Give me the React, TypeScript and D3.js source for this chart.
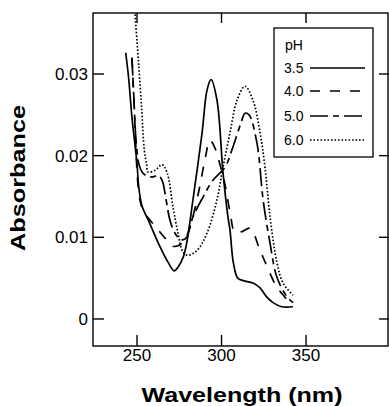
import React from "react";
import * as d3 from "d3";

// Absorption spectra (wavelength in nm, absorbance) at four pH values
const wl35 = [243.3, 245, 247, 250, 251, 253, 256.7, 262.6, 268.5, 272, 274.4, 277.4, 279.4, 283.1, 288.5, 291.4, 293.8, 297.3, 300.9, 303.8, 305, 307, 309.6, 312.9, 318.6, 322.8, 326.7, 330.5, 335.6, 342.3];
const ab35 = [0.0326, 0.0296, 0.0247, 0.019, 0.0162, 0.0138, 0.0121, 0.0093, 0.0069, 0.0059, 0.0064, 0.0076, 0.0093, 0.0146, 0.0228, 0.028, 0.0293, 0.0268, 0.0179, 0.0125, 0.0109, 0.0069, 0.005, 0.0047, 0.0044, 0.0038, 0.0027, 0.002, 0.0015, 0.0015];

const wl40 = [247, 248.2, 249.4, 250.6, 252.4, 254.7, 257.7, 261.8, 266.6, 271.3, 275.4, 279, 282.5, 286.7, 290.2, 293.2, 296.2, 299.1, 302.1, 305.1, 308, 312, 316.9, 322.8, 327, 332.8, 340.5, 342.3];
const ab40 = [0.032, 0.0268, 0.0207, 0.0164, 0.014, 0.0129, 0.0121, 0.0111, 0.0099, 0.0089, 0.0091, 0.01, 0.0121, 0.0158, 0.0195, 0.0219, 0.0209, 0.0189, 0.0164, 0.013, 0.0106, 0.0107, 0.0111, 0.0084, 0.0064, 0.0039, 0.0021, 0.002];

const wl50 = [247, 248.2, 249.4, 251.2, 253, 255.9, 259.5, 262.4, 264.8, 267.2, 269.5, 272.5, 276, 279, 283.1, 289, 294.9, 302.1, 306.8, 311.5, 313.9, 316.3, 321, 324.6, 328.7, 332.8, 338.8, 342.3];
const ab50 = [0.032, 0.0268, 0.0219, 0.0189, 0.018, 0.0175, 0.0174, 0.0176, 0.017, 0.0146, 0.0121, 0.0105, 0.0097, 0.0099, 0.0125, 0.0149, 0.017, 0.0186, 0.0211, 0.024, 0.0252, 0.025, 0.0215, 0.0146, 0.0093, 0.0051, 0.0027, 0.002];

const wl60 = [247.5, 248.8, 250.8, 252.8, 254.3, 255.7, 256.5, 260.7, 264.8, 267.8, 271.3, 274.3, 277.2, 280.2, 285.5, 291.4, 297.3, 300.9, 305, 309.2, 313.9, 318.6, 322.8, 325.7, 328.7, 332.8, 336.4, 342.3];
const ab60 = [0.042, 0.0375, 0.0317, 0.0256, 0.0207, 0.0189, 0.018, 0.0182, 0.0189, 0.0179, 0.0137, 0.0105, 0.0082, 0.0078, 0.0084, 0.0105, 0.0146, 0.0186, 0.0228, 0.0268, 0.0285, 0.0268, 0.0228, 0.0186, 0.0125, 0.0069, 0.0044, 0.0029];

const phLabels = ["3.5", "4.0", "5.0", "6.0"];
const xTicks = [250, 300, 350];
const yTicks = [0, 0.01, 0.02, 0.03];

const series = [
  { label: phLabels[0], wl: wl35, ab: ab35, dash: "none", width: 1.7 },
  { label: phLabels[1], wl: wl40, ab: ab40, dash: "10,10", width: 1.7 },
  { label: phLabels[2], wl: wl50, ab: ab50, dash: "18,5,6,5", width: 1.7 },
  { label: phLabels[3], wl: wl60, ab: ab60, dash: "1.6,1.9", width: 1.7 },
];

const W = 389;
const H = 406;
const L = 93;
const R = 388;
const T = 13;
const B = 346;
const FONT = "'Liberation Sans', Arial, Helvetica, sans-serif";

export default function App() {
  const x = d3.scaleLinear().domain([223.96, 398.5]).range([L, R]);
  const y = d3.scaleLinear().domain([-0.00331, 0.03747]).range([B, T]);

  const line = d3
    .line<[number, number]>()
    .x((d) => x(d[0]))
    .y((d) => y(d[1]))
    .curve(d3.curveCatmullRom.alpha(0.5));

  const legendY = [68, 91, 116, 140];

  return (
    <svg
      width={W}
      height={H}
      viewBox={`0 0 ${W} ${H}`}
      style={{ position: "absolute", left: 0, top: 0, background: "#fff" }}
      fontFamily={FONT}
    >
      <defs>
        <clipPath id="plotArea">
          <rect x={L} y={T} width={R - L} height={B - T} />
        </clipPath>
      </defs>
      <rect x={0} y={0} width={W} height={H} fill="#fff" />

      {/* spectra */}
      <g clipPath="url(#plotArea)" fill="none" stroke="#000">
        {series.map((s) => (
          <path
            key={s.label}
            d={line(s.wl.map((w, i) => [w, s.ab[i]] as [number, number])) || ""}
            strokeWidth={s.width}
            strokeDasharray={s.dash === "none" ? undefined : s.dash}
          />
        ))}
      </g>

      {/* frame */}
      <rect x={L} y={T} width={R - L} height={B - T} fill="none" stroke="#000" strokeWidth={1.4} />

      {/* ticks */}
      <g stroke="#000" strokeWidth={1.4}>
        {xTicks.map((t) => (
          <g key={"xt" + t}>
            <line x1={x(t)} x2={x(t)} y1={B} y2={B - 11} />
            <line x1={x(t)} x2={x(t)} y1={T} y2={T + 10} />
          </g>
        ))}
        {yTicks.map((t) => (
          <g key={"yt" + t}>
            <line x1={L} x2={L + 11} y1={y(t)} y2={y(t)} />
            <line x1={R - 9} x2={R + 1} y1={y(t)} y2={y(t)} />
          </g>
        ))}
      </g>

      {/* tick labels */}
      <g fontSize={17} fill="#000">
        {xTicks.map((t) => (
          <text key={"xl" + t} x={x(t)} y={361} textAnchor="middle">
            {t}
          </text>
        ))}
        {yTicks.map((t) => (
          <text key={"yl" + t} x={88} y={y(t) + 6} textAnchor="end">
            {t === 0 ? "0" : d3.format(".2f")(t)}
          </text>
        ))}
      </g>

      {/* axis titles */}
      <text
        x={242}
        y={402}
        textAnchor="middle"
        fontSize={21}
        fontWeight="bold"
        textLength={201}
        lengthAdjust="spacingAndGlyphs"
      >
        Wavelength (nm)
      </text>
      <text
        transform="translate(25,178) rotate(-90)"
        textAnchor="middle"
        fontSize={21}
        fontWeight="bold"
        textLength={146}
        lengthAdjust="spacingAndGlyphs"
      >
        Absorbance
      </text>

      {/* legend */}
      <rect x={274} y={28} width={99} height={129} fill="#fff" stroke="#000" strokeWidth={1.3} />
      <text x={285} y={50} fontSize={14}>
        pH
      </text>
      {series.map((s, i) => (
        <g key={"lg" + s.label}>
          <text x={284} y={legendY[i] + 5} fontSize={14}>
            {s.label}
          </text>
          <line
            x1={310}
            x2={365}
            y1={legendY[i]}
            y2={legendY[i]}
            stroke="#000"
            strokeWidth={s.width}
            strokeDasharray={s.dash === "none" ? undefined : s.dash}
          />
        </g>
      ))}
    </svg>
  );
}
